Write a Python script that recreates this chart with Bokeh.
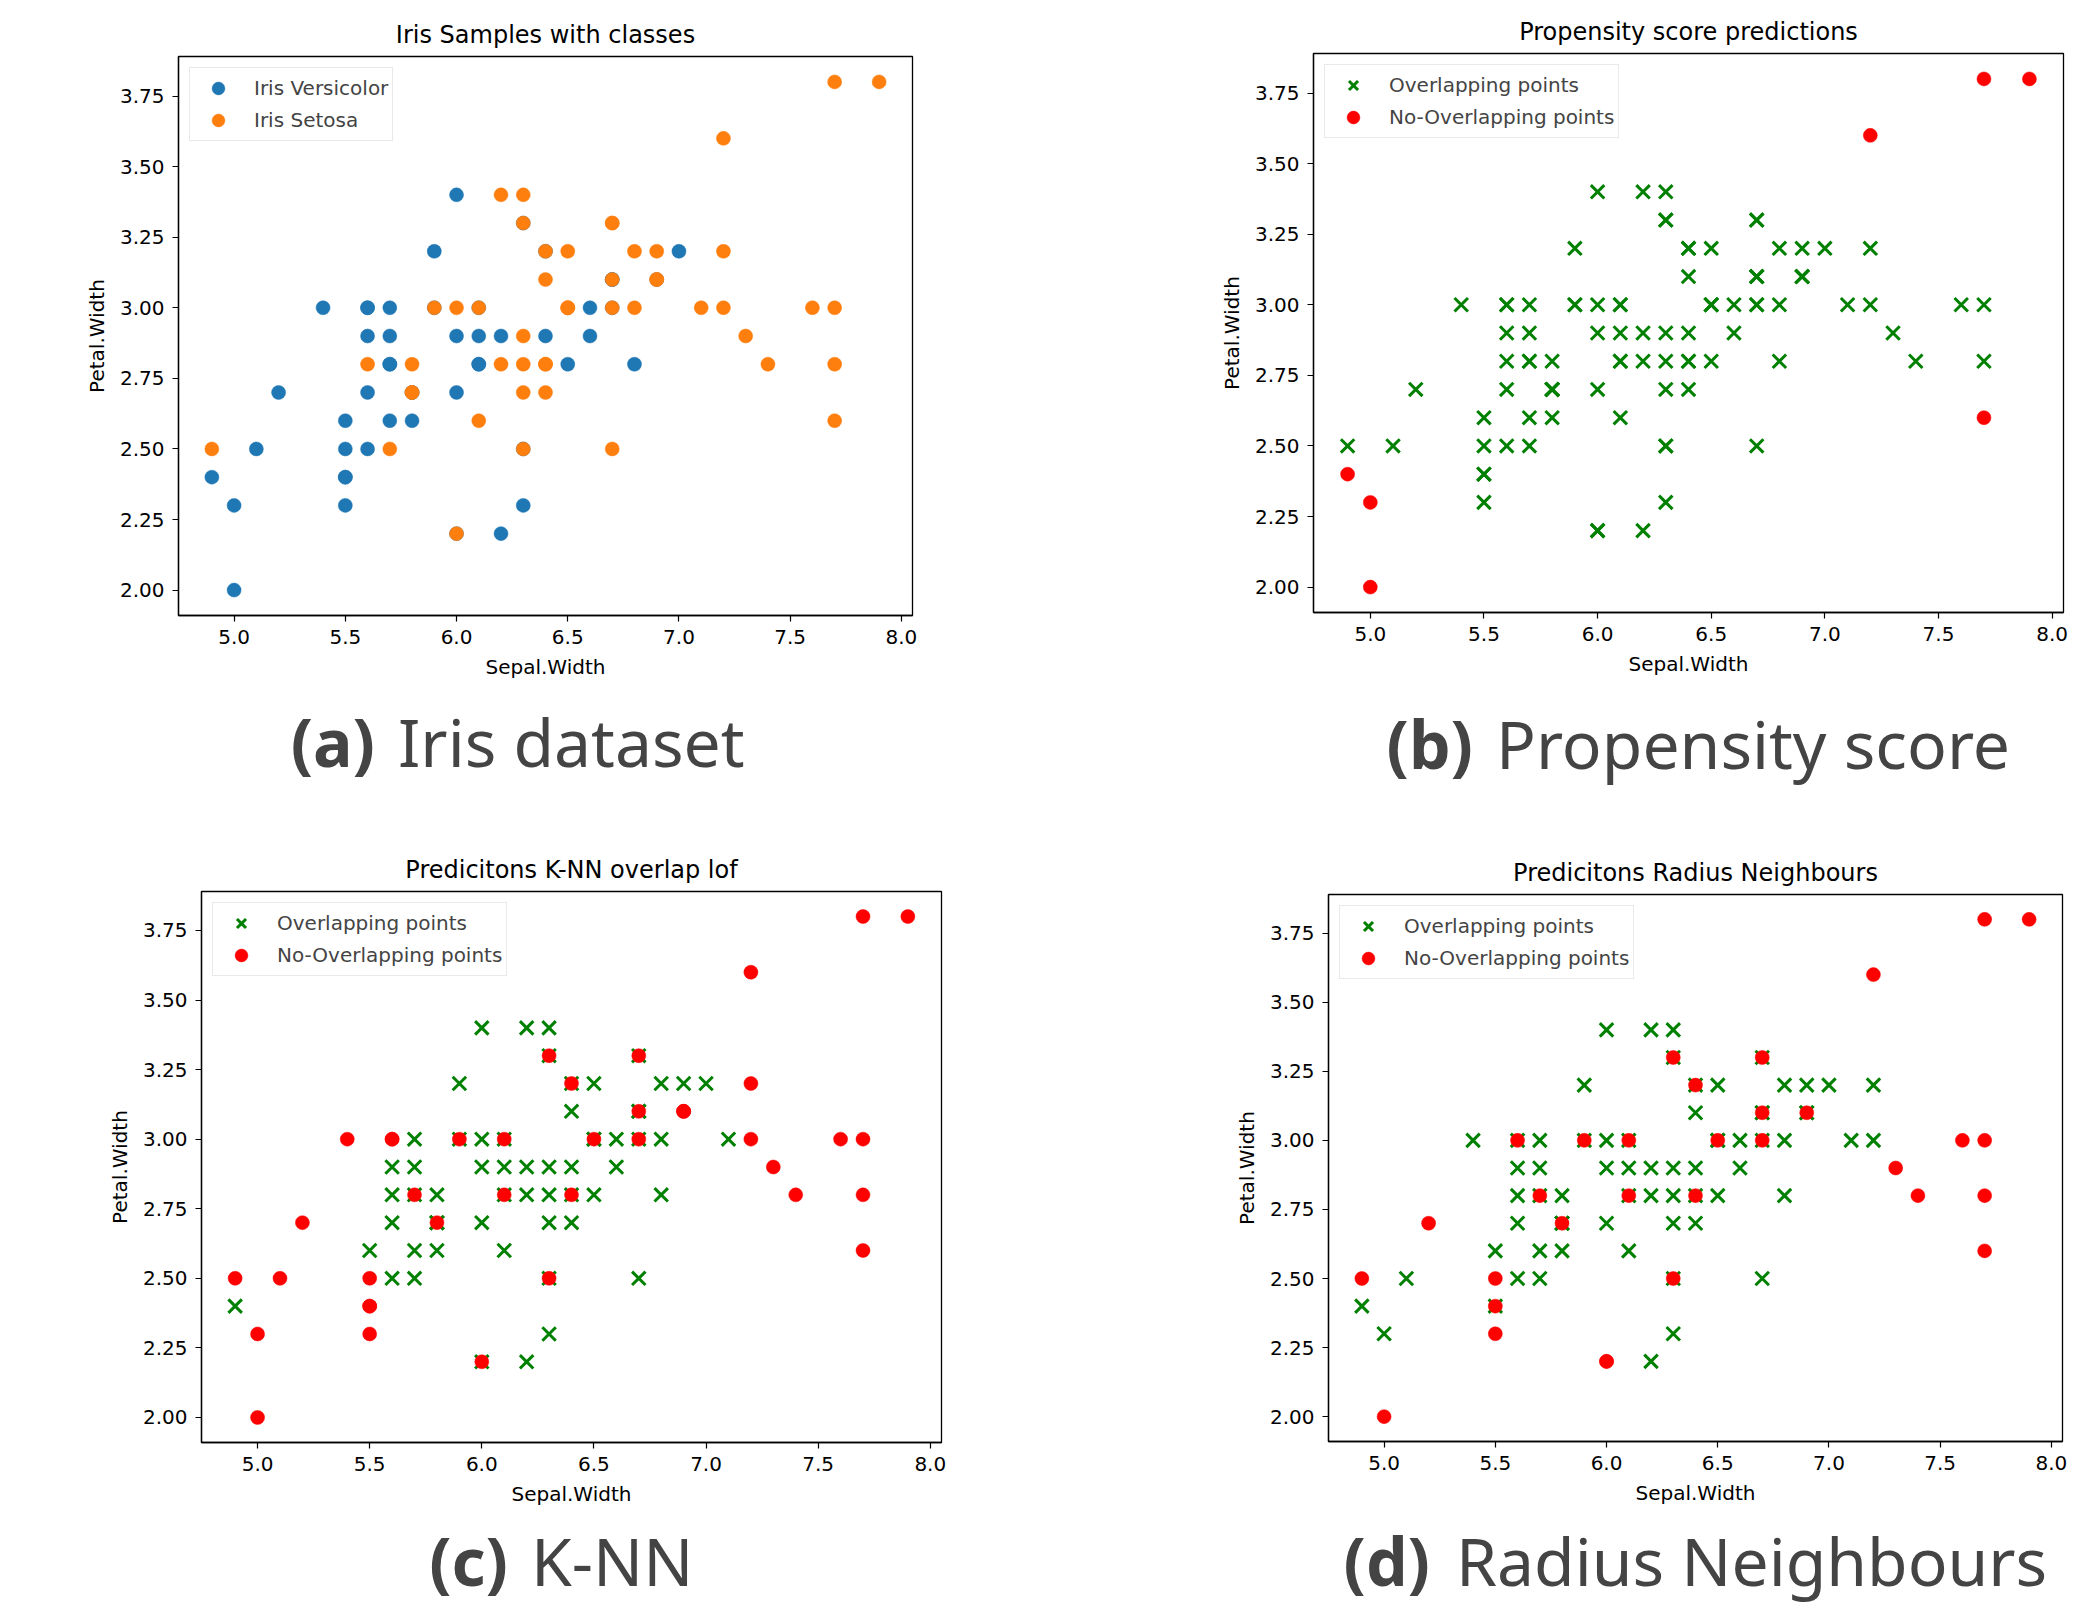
from bokeh.plotting import figure
from bokeh.models import Range1d, FixedTicker, PrintfTickFormatter, Legend, LegendItem, Div
from bokeh.layouts import column, row
from bokeh.embed import file_html
from bokeh.resources import INLINE

# ---------------- data ----------------
versicolor_x = [7.0, 6.4, 6.9, 5.5, 6.5, 5.7, 6.3, 4.9, 6.6, 5.2, 5.0, 5.9, 6.0, 6.1, 5.6, 6.7, 5.6, 5.8, 6.2, 5.6,
                5.9, 6.1, 6.3, 6.1, 6.4, 6.6, 6.8, 6.7, 6.0, 5.7, 5.5, 5.5, 5.8, 6.0, 5.4, 6.0, 6.7, 6.3, 5.6, 5.5,
                5.5, 6.1, 5.8, 5.0, 5.6, 5.7, 5.7, 6.2, 5.1, 5.7]
versicolor_y = [3.2, 3.2, 3.1, 2.3, 2.8, 2.8, 3.3, 2.4, 2.9, 2.7, 2.0, 3.0, 2.2, 2.9, 2.9, 3.1, 3.0, 2.7, 2.2, 2.5,
                3.2, 2.8, 2.5, 2.8, 2.9, 3.0, 2.8, 3.0, 2.9, 2.6, 2.4, 2.4, 2.7, 2.7, 3.0, 3.4, 3.1, 2.3, 3.0, 2.5,
                2.6, 3.0, 2.6, 2.3, 2.7, 3.0, 2.9, 2.9, 2.5, 2.8]
second_x = [6.3, 5.8, 7.1, 6.3, 6.5, 7.6, 4.9, 7.3, 6.7, 7.2, 6.5, 6.4, 6.8, 5.7, 5.8, 6.4, 6.5, 7.7, 7.7, 6.0,
            6.9, 5.6, 7.7, 6.3, 6.7, 7.2, 6.2, 6.1, 6.4, 7.2, 7.4, 7.9, 6.4, 6.3, 6.1, 7.7, 6.3, 6.4, 6.0, 6.9,
            6.7, 6.9, 5.8, 6.8, 6.7, 6.7, 6.3, 6.5, 6.2, 5.9]
second_y = [3.3, 2.7, 3.0, 2.9, 3.0, 3.0, 2.5, 2.9, 2.5, 3.6, 3.2, 2.7, 3.0, 2.5, 2.8, 3.2, 3.0, 3.8, 2.6, 2.2,
            3.2, 2.8, 2.8, 2.7, 3.3, 3.2, 2.8, 3.0, 2.8, 3.0, 2.8, 3.8, 2.8, 2.8, 2.6, 3.0, 3.4, 3.1, 3.0, 3.1,
            3.1, 3.1, 2.7, 3.2, 3.3, 3.0, 2.5, 3.0, 3.4, 3.0]

# sample numbers (1-based within each group) drawn as "No-Overlapping points"
propensity_non_first = [8, 11, 44]
propensity_non_second = [10, 18, 19, 32]
knn_non_first = [3, 4, 6, 10, 11, 17, 22, 31, 32, 35, 39, 40, 44, 49]
knn_non_second = [1, 2, 5, 6, 7, 8, 10, 16, 18, 19, 20, 23, 25, 26, 28, 29, 30, 31, 32, 36, 40, 41, 42, 46, 47, 50]
radius_non_first = [4, 6, 10, 11, 13, 17, 22, 31, 40]
radius_non_second = [1, 2, 5, 6, 7, 8, 10, 16, 18, 19, 20, 23, 25, 28, 29, 31, 32, 36, 40, 41, 46, 47, 50]

x_ticks = [5.0, 5.5, 6.0, 6.5, 7.0, 7.5, 8.0]
y_ticks = [2.00, 2.25, 2.50, 2.75, 3.00, 3.25, 3.50, 3.75]

titles = ["Iris Samples with classes", "Propensity score predictions",
          "Predicitons K-NN overlap lof", "Predicitons Radius Neighbours"]
caption_tags = ["(a)", "(b)", "(c)", "(d)"]
caption_texts = ["Iris dataset", "Propensity score", "K-NN", "Radius Neighbours"]
class_names = ["Iris Versicolor", "Iris Setosa"]
group_names = ["Overlapping points", "No-Overlapping points"]

FONT = "DejaVu Sans"
CAP_FONT = "Noto Sans"
CAP_SIZE = 66


def make_fig(title, width, height, bl, br, bt, bb):
    p = figure(width=width, height=height,
               x_range=Range1d(4.75, 8.05), y_range=Range1d(1.91, 3.89),
               output_backend="svg", toolbar_location=None,
               min_border_left=bl, min_border_right=br,
               min_border_top=bt, min_border_bottom=bb,
               background_fill_color="white", border_fill_color="white",
               title=title, margin=0)
    p.title.align = "center"
    p.title.text_font = FONT
    p.title.text_font_size = "24px"
    p.title.text_font_style = "normal"
    p.title.text_color = "black"
    p.title.standoff = 15
    p.xgrid.visible = False
    p.ygrid.visible = False
    p.outline_line_color = "black"
    p.outline_line_width = 1.3
    p.xaxis.ticker = FixedTicker(ticks=x_ticks)
    p.yaxis.ticker = FixedTicker(ticks=y_ticks)
    p.xaxis.formatter = PrintfTickFormatter(format="%.1f")
    p.yaxis.formatter = PrintfTickFormatter(format="%.2f")
    for ax in (p.xaxis[0], p.yaxis[0]):
        ax.major_tick_in = 0
        ax.major_tick_out = 6
        ax.minor_tick_in = 0
        ax.minor_tick_out = 0
        ax.major_tick_line_width = 1.2
        ax.axis_line_width = 1.3
        ax.major_label_text_font = FONT
        ax.major_label_text_font_size = "20px"
        ax.major_label_text_color = "black"
        ax.major_label_standoff = 8
        ax.axis_label_text_font = FONT
        ax.axis_label_text_font_size = "20px"
        ax.axis_label_text_font_style = "normal"
        ax.axis_label_text_color = "black"
        ax.axis_label_standoff = 8
    p.xaxis.axis_label = "Sepal.Width"
    p.yaxis.axis_label = "Petal.Width"
    return p


def add_legend(p, items):
    lg = Legend(items=items, location="top_left", margin=11, padding=4,
                spacing=0, glyph_height=32, glyph_width=48, label_standoff=12,
                label_text_font=FONT, label_text_font_size="20px", label_height=20,
                border_line_color="#d3d3d3", border_line_width=1.2,
                background_fill_color="white", background_fill_alpha=0.85)
    p.add_layout(lg)


def caption(idx, width, height, split_x, text_x, baseline):
    # normal line box for Noto Sans: ascent 1.069 em above the baseline
    top = round(baseline - 1.069 * CAP_SIZE)
    html = (
        f'<div style="position:relative; width:{width}px; height:{height}px; overflow:hidden; margin:0; '
        f'font-family:\'{CAP_FONT}\'; font-size:{CAP_SIZE}px; line-height:normal; color:#444444; '
        f'white-space:nowrap;">'
        f'<span style="position:absolute; right:{width - split_x}px; top:{top}px; font-weight:bold;">'
        f'{caption_tags[idx]}</span>'
        f'<span style="position:absolute; left:{text_x}px; top:{top}px; font-weight:normal;">'
        f'{caption_texts[idx]}</span></div>'
    )
    return Div(text=html, width=width, height=height, margin=0)


def split(non_first, non_second):
    ox, oy, nx, ny = [], [], [], []
    for i, (x, y) in enumerate(zip(versicolor_x, versicolor_y)):
        if (i + 1) in non_first:
            nx.append(x); ny.append(y)
        else:
            ox.append(x); oy.append(y)
    for i, (x, y) in enumerate(zip(second_x, second_y)):
        if (i + 1) in non_second:
            nx.append(x); ny.append(y)
        else:
            ox.append(x); oy.append(y)
    return ox, oy, nx, ny


def prediction_fig(idx, non_first, non_second, dims):
    p = make_fig(titles[idx], *dims)
    ox, oy, nx, ny = split(non_first, non_second)
    r1 = p.scatter(ox, oy, marker="x", size=19, line_color="green", line_width=3)
    r2 = p.scatter(nx, ny, marker="circle", size=14, fill_color="red", line_color="red", line_width=0.5)
    add_legend(p, [LegendItem(label=group_names[0], renderers=[r1]),
                   LegendItem(label=group_names[1], renderers=[r2])])
    return p


W_LEFT, W_RIGHT = 1108, 977

# (a)
pa = make_fig(titles[0], W_LEFT, 693, 178, 196, 56, 78)
ra = pa.scatter(versicolor_x, versicolor_y, marker="circle", size=14,
                fill_color="#1f77b4", line_color="#1f77b4", line_width=0.5)
rb = pa.scatter(second_x, second_y, marker="circle", size=14,
                fill_color="#ff7f0e", line_color="#ff7f0e", line_width=0.5)
add_legend(pa, [LegendItem(label=class_names[0], renderers=[ra]),
                LegendItem(label=class_names[1], renderers=[rb])])
ca = caption(0, W_LEFT, 127, 375, 398, 74)

# (b)
pb = prediction_fig(1, propensity_non_first, propensity_non_second, (W_RIGHT, 693, 205, 22, 53, 81))
cb = caption(1, W_RIGHT, 127, 365, 388, 76)

# (c)
pc = prediction_fig(2, knn_non_first, knn_non_second, (W_LEFT, 692, 201, 167, 71, 70))
cc = caption(2, W_LEFT, 96, 508, 531, 74)

# (d)
pd_ = prediction_fig(3, radius_non_first, radius_non_second, (W_RIGHT, 692, 220, 23, 74, 71))
cd = caption(3, W_RIGHT, 96, 322, 348, 74)

layout = column(row(column(pa, ca, spacing=0, margin=0), column(pb, cb, spacing=0, margin=0), spacing=0, margin=0),
                row(column(pc, cc, spacing=0, margin=0), column(pd_, cd, spacing=0, margin=0), spacing=0, margin=0),
                spacing=0, margin=0)

with open("out.html", "w") as f:
    f.write(file_html(layout, INLINE))
